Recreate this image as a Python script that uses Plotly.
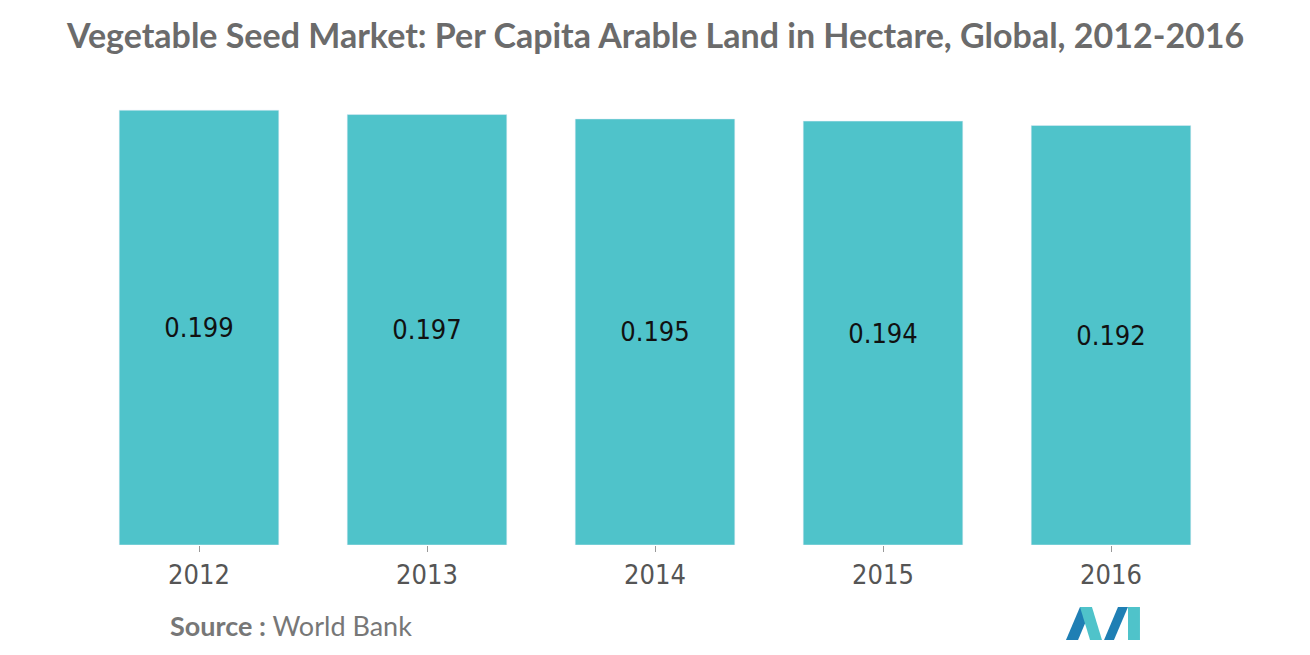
import plotly.graph_objects as go

years = ["2012", "2013", "2014", "2015", "2016"]
values = [0.199, 0.197, 0.195, 0.194, 0.192]

OFF = 8  # page offset of the figure in the browser
W, H = 1310, 655
L, R, T, B = 85 - OFF, 85 + OFF, 108 - OFF, 110 + OFF
pw, ph = W - L - R, H - T - B


def px(x):
    return (x - OFF - L) / pw


def py(y):
    return (H - B - (y - OFF)) / ph


fig = go.Figure()
fig.add_bar(
    x=years, y=values, text=[f"{v:.3f}" for v in values],
    textposition="inside", insidetextanchor="middle",
    textfont=dict(family="DejaVu Sans Condensed, DejaVu Sans", size=27, color="#111"),
    marker_color="#4fc3ca", hoverinfo="skip",
)


def poly(pts, color):
    d = "M " + " L ".join(f"{px(a):.4f},{py(b):.4f}" for a, b in pts) + " Z"
    fig.add_shape(type="path", path=d, xref="paper", yref="paper",
                  fillcolor=color, line_width=0)


# logo
poly([(1066, 640), (1080, 607), (1092, 607), (1078, 640)], "#1f7fb4")
poly([(1080, 607), (1092, 607), (1102, 640), (1090, 640)], "#4fc3ca")
poly([(1104, 640), (1118, 607), (1128, 607), (1114, 640)], "#1f7fb4")
poly([(1128, 607), (1140, 607), (1140, 640), (1128, 640)], "#4fc3ca")

fig.add_annotation(
    text="<b>Vegetable Seed Market: Per Capita Arable Land in Hectare, Global, 2012-2016</b>",
    xref="paper", yref="paper", x=px(655), y=py(35), xanchor="center", yanchor="middle",
    showarrow=False, font=dict(family="Lato", size=34, color="#6b6b6b"),
)
fig.add_annotation(
    text="<b>Source :</b> World Bank", xref="paper", yref="paper",
    x=px(168), y=py(625), xanchor="left", yanchor="middle", showarrow=False,
    font=dict(family="Lato", size=27, color="#777"),
)

fig.update_layout(
    width=W, height=H, margin=dict(l=L, r=R, t=T, b=B),
    plot_bgcolor="white", paper_bgcolor="white", bargap=0.3, showlegend=False,
    xaxis=dict(tickfont=dict(family="DejaVu Sans Condensed, DejaVu Sans", size=27, color="#555"),
               ticks="outside", ticklen=6, tickcolor="#999", showline=False),
    yaxis=dict(range=[0, 0.2], visible=False),
)
fig.write_html("out.html")
